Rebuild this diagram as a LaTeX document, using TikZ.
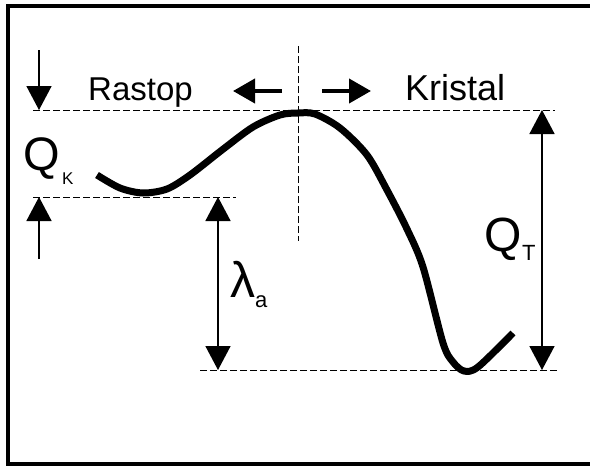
\documentclass[tikz,border=0pt]{standalone}
\usepackage{fontspec}
\setmainfont{Liberation Sans}
\usetikzlibrary{arrows.meta}
\tikzset{
  guide/.style={line width=1pt, dash pattern=on 7pt off 3pt},
  dimarrow/.style={line width=1.6pt, -{Triangle[length=24pt,width=25pt]}},
  dimboth/.style={line width=1.6pt, {Triangle[length=24pt,width=25pt]}-{Triangle[length=24pt,width=25pt]}},
  dirarrow/.style={line width=4pt, -{Triangle[length=22pt,width=24pt]}},
  lbl/.style={inner sep=0pt, anchor=base west},
}
\newcommand{\fsz}[1]{\fontsize{#1}{#1}\selectfont}
\begin{document}
\begin{tikzpicture}[x=1pt,y=-1pt]
\useasboundingbox (0,0) rectangle (590,466);
\begin{scope}
\clip (0,0) rectangle (590,466);
% frame (right side lies outside the picture)
\draw[line width=4pt] (640,6) -- (8,6) -- (8,464) -- (640,464);
\end{scope}
% guides
\coordinate (t1) at (33,110); \coordinate (t2) at (555,110);
\coordinate (m1) at (33,197); \coordinate (m2) at (236,197);
\coordinate (b1) at (200,370); \coordinate (b2) at (558,370);
\coordinate (v1) at (298,46); \coordinate (v2) at (298,241);
\draw[guide] (t1) -- (t2);
\draw[guide] (m1) -- (m2);
\draw[guide] (b1) -- (b2);
\draw[guide] (v1) -- (v2);
% left arrows
\coordinate (a1s) at (39,50); \coordinate (a1e) at (39,110);
\coordinate (a2s) at (39,259); \coordinate (a2e) at (39,197);
\draw[dimarrow] (a1s) -- (a1e);
\draw[dimarrow] (a2s) -- (a2e);
% dimension arrows
\coordinate (la1) at (218,197); \coordinate (la2) at (218,370);
\coordinate (qt1) at (542,110); \coordinate (qt2) at (542,370);
\draw[dimboth] (la1) -- (la2);
\draw[dimboth] (qt1) -- (qt2);
% direction arrows
\coordinate (h1s) at (282,91); \coordinate (h1e) at (233,91);
\coordinate (h2s) at (322,91); \coordinate (h2e) at (371,91);
\draw[dirarrow] (h1s) -- (h1e);
\draw[dirarrow] (h2s) -- (h2e);
% curve
\draw[line width=7pt, line join=round] plot[smooth, tension=0.5] coordinates {
  (97,175) (120,188) (143,193) (167,189) (190,175) (222,150) (253,127)
  (280,115) (298,113) (315,114) (340,128) (367,155) (387,190) (407,229)
  (423,267) (443,343) (453,362) (464,371) (478,367) (513,333)};
% labels
\node[lbl] (rastop) at (88,100) {\fsz{33}Rastop};
\node[lbl] (kristal) at (405,100) {\fsz{36}Kristal};
\node[lbl] (qk) at (23,170) {\fsz{47}Q};
\node[lbl] (qks) at (62,184) {\fsz{17}K};
\node[lbl] (qt) at (484,251) {\fsz{48}Q};
\node[lbl] (qts) at (522,260) {\fsz{22}T};
\node[lbl] (lam) at (230,297) {\fsz{50}λ};
\node[lbl] (lams) at (255,307) {\fsz{22}a};
\end{tikzpicture}
\end{document}
